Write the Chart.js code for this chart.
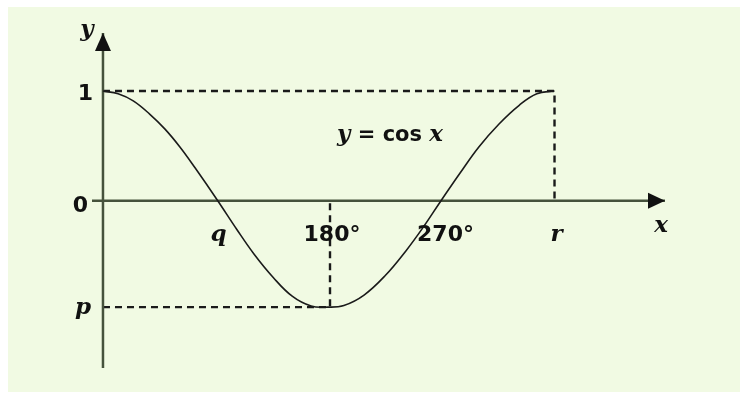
<!DOCTYPE html>
<html>
<head>
<meta charset="utf-8">
<script src="https://cdn.jsdelivr.net/npm/chart.js@4/dist/chart.umd.min.js"></script>
<style>
  html, body { margin: 0; padding: 0; background: #ffffff; }
  #wrap { width: 740px; height: 394px; position: relative; }
</style>
</head>
<body>
<div id="wrap"><canvas id="c" width="740" height="394"></canvas></div>
<script>
// y = cos x, x in degrees
const curveX = [0, 12, 24, 37, 49, 61, 73, 91, 106, 120, 135, 150, 165, 178, 191, 207, 224, 240, 254, 268, 283, 298, 314, 330, 344, 358];
const curveY = [1.00, 0.975, 0.91, 0.79, 0.655, 0.49, 0.30, 0.00, -0.26, -0.49, -0.70, -0.87, -0.96, -0.97, -0.955, -0.86, -0.68, -0.46, -0.24, 0.00, 0.25, 0.49, 0.70, 0.87, 0.975, 1.00];

// marked values
const pValue = -0.97;   // minimum
const rValue = 358;     // end of one period
const halfTurn = 180;

// tick labels along the axes
const xTickValues = [90, 180, 270, 358];
const xTickLabels = ['q', '180°', '270°', 'r'];
const yTickValues = [1, 0, -0.97];
const yTickLabels = ['1', '0', 'p'];

// axis extents (the arrows end here)
const xRange = [-8.7, 445.6];
const yRange = [-1.525, 1.529];

// curve caption position
const captionAt = { x: 185.6, y: 0.544 };

const INK = '#1a1a1a';
const AXIS = '#46523c';
const DIGIT_FONT = 'bold 22px "DejaVu Sans"';
const LETTER_FONT = 'italic bold 23px "DejaVu Serif"';

const pts = (xs, ys) => xs.map((x, i) => ({ x, y: ys[i] }));

const panelPlugin = {
  id: 'panel',
  beforeDraw(chart) {
    const ctx = chart.ctx;
    ctx.save();
    ctx.fillStyle = '#ffffff';
    ctx.fillRect(0, 0, chart.width, chart.height);
    ctx.fillStyle = '#f1fae3';
    ctx.fillRect(8, 7, chart.width - 8, chart.height - 9);
    ctx.restore();
  }
};

const labelPlugin = {
  id: 'labels',
  afterDatasetsDraw(chart) {
    const ctx = chart.ctx;
    const sx = chart.scales.x, sy = chart.scales.y;
    const x0 = sx.getPixelForValue(0), y0 = sy.getPixelForValue(0);
    const xEnd = sx.getPixelForValue(xRange[1]);
    const yEnd = sy.getPixelForValue(yRange[1]);
    ctx.save();
    ctx.fillStyle = '#111';

    // arrow heads
    ctx.beginPath();
    ctx.moveTo(xEnd, y0);
    ctx.lineTo(xEnd - 17, y0 - 8);
    ctx.lineTo(xEnd - 17, y0 + 8);
    ctx.closePath();
    ctx.fill();
    ctx.beginPath();
    ctx.moveTo(x0, yEnd);
    ctx.lineTo(x0 - 8, yEnd + 18);
    ctx.lineTo(x0 + 8, yEnd + 18);
    ctx.closePath();
    ctx.fill();

    const isLetter = s => /^[a-z]$/.test(s);

    // x tick labels
    ctx.textBaseline = 'alphabetic';
    ctx.textAlign = 'center';
    xTickValues.forEach((v, i) => {
      const s = xTickLabels[i];
      ctx.font = isLetter(s) ? LETTER_FONT : DIGIT_FONT;
      ctx.fillText(s, sx.getPixelForValue(v) + 2, y0 + 40);
    });

    // y tick labels
    ctx.textAlign = 'right';
    yTickValues.forEach((v, i) => {
      const s = yTickLabels[i];
      ctx.font = isLetter(s) ? LETTER_FONT : DIGIT_FONT;
      const off = isLetter(s) ? 7 : (v === 0 ? 11 : 9);
      const right = isLetter(s) ? x0 - 12 : (v === 0 ? x0 - 15 : x0 - 10);
      ctx.fillText(s, right, sy.getPixelForValue(v) + off);
    });

    // axis names
    ctx.font = LETTER_FONT;
    ctx.textAlign = 'center';
    ctx.fillText('y', x0 - 16, yEnd + 3);
    ctx.fillText('x', xEnd - 4, y0 + 31);

    // caption y = cos x
    const cx = sx.getPixelForValue(captionAt.x), cy = sy.getPixelForValue(captionAt.y);
    ctx.textAlign = 'left';
    const parts = [
      ['y', 'italic bold 23px "DejaVu Serif"'],
      [' = ', 'bold 21px "DejaVu Sans"'],
      ['cos', 'bold 21px "DejaVu Sans"'],
      [' ', 'bold 21px "DejaVu Sans"'],
      ['x', 'italic bold 23px "DejaVu Serif"']
    ];
    let px = cx;
    parts.forEach(([t, f]) => {
      ctx.font = f;
      ctx.fillText(t, px, cy);
      px += ctx.measureText(t).width;
    });
    ctx.restore();
  }
};

new Chart(document.getElementById('c'), {
  type: 'scatter',
  data: {
    datasets: [
      {
        label: 'cos',
        data: pts(curveX, curveY),
        showLine: true,
        borderColor: INK,
        borderWidth: 1.6,
        pointRadius: 0,
        tension: 0.4,
        order: 0
      },
      {
        label: 'x axis',
        data: [{ x: xRange[0], y: 0 }, { x: xRange[1], y: 0 }],
        showLine: true,
        borderColor: AXIS,
        borderWidth: 2.5,
        pointRadius: 0,
        order: 1
      },
      {
        label: 'y axis',
        data: [{ x: 0, y: yRange[0] }, { x: 0, y: yRange[1] }],
        showLine: true,
        borderColor: AXIS,
        borderWidth: 2.5,
        pointRadius: 0,
        order: 1
      },
      {
        label: 'top guide',
        data: [{ x: 0, y: 1 }, { x: rValue, y: 1 }, { x: rValue, y: 0 }],
        showLine: true,
        borderColor: INK,
        borderWidth: 2.4,
        borderDash: [7, 5],
        pointRadius: 0,
        order: 2
      },
      {
        label: 'bottom guide',
        data: [{ x: 0, y: pValue }, { x: halfTurn, y: pValue }, { x: halfTurn, y: 0 }],
        showLine: true,
        borderColor: INK,
        borderWidth: 2.4,
        borderDash: [7, 5],
        pointRadius: 0,
        order: 2
      }
    ]
  },
  options: {
    responsive: false,
    devicePixelRatio: 1,
    animation: false,
    events: [],
    clip: false,
    layout: { padding: { left: 92, right: 75, top: 33, bottom: 26 } },
    plugins: { legend: { display: false }, tooltip: { enabled: false } },
    scales: {
      x: { type: 'linear', min: xRange[0], max: xRange[1], display: false },
      y: { type: 'linear', min: yRange[0], max: yRange[1], display: false }
    }
  },
  plugins: [panelPlugin, labelPlugin]
});
</script>
</body>
</html>
